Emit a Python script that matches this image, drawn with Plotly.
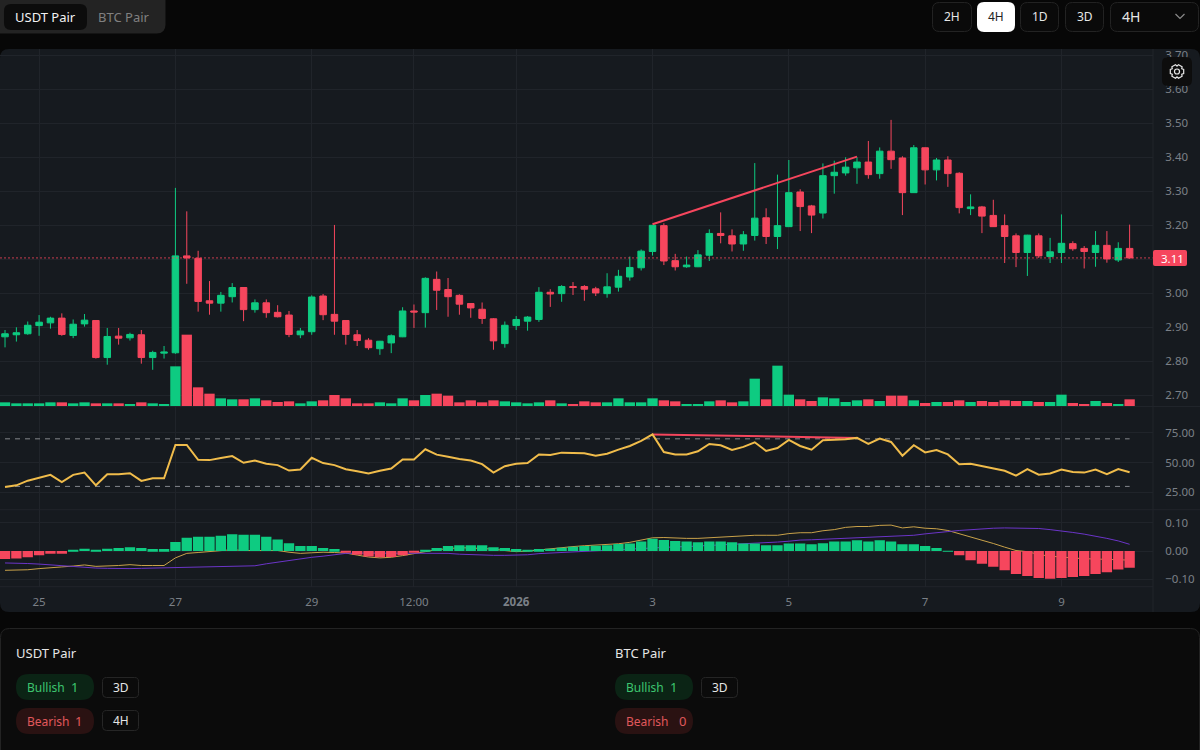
import math
import pandas as pd
import plotly.graph_objects as go

# velas de 4h, desde el 24 dic 12:00
tiempos = pd.date_range("2025-12-24 12:00", periods=100, freq="4h")

opens = [2.872,2.878,2.881,2.905,2.913,2.927,2.876,2.910,2.920,2.811,
         2.874,2.869,2.878,2.811,2.824,2.825,3.110,3.103,2.978,2.971,
         2.990,3.017,2.952,2.972,2.944,2.936,2.878,2.887,2.992,2.938,
         2.920,2.878,2.862,2.837,2.854,2.872,2.948,2.943,3.041,3.011,
         2.994,2.970,2.953,2.925,2.852,2.905,2.918,2.923,3.003,2.999,
         3.020,3.020,3.013,2.999,3.018,3.048,3.075,3.123,3.199,3.096,
         3.078,3.078,3.112,3.176,3.169,3.145,3.170,3.222,3.167,3.196,
         3.298,3.257,3.236,3.346,3.354,3.369,3.386,3.352,3.418,3.398,
         3.296,3.428,3.363,3.392,3.353,3.249,3.254,3.229,3.199,3.169,
         3.120,3.169,3.108,3.120,3.146,3.132,3.120,3.141,3.098,3.132]
highs = [2.892,2.900,2.917,2.936,2.931,2.941,2.923,2.939,2.921,2.898,
         2.898,2.884,2.892,2.831,2.845,3.310,3.241,3.125,3.036,3.004,
         3.030,3.018,2.982,2.982,2.965,2.948,2.898,2.994,2.998,3.201,
         2.921,2.892,2.868,2.860,2.879,2.959,2.967,3.047,3.064,3.045,
         2.997,2.970,2.973,2.927,2.917,2.933,2.933,3.018,3.012,3.024,
         3.033,3.024,3.019,3.059,3.069,3.108,3.129,3.201,3.206,3.116,
         3.108,3.127,3.188,3.238,3.188,3.183,3.383,3.250,3.349,3.392,
         3.306,3.260,3.382,3.390,3.400,3.400,3.448,3.429,3.510,3.403,
         3.436,3.429,3.398,3.403,3.356,3.291,3.257,3.275,3.232,3.176,
         3.172,3.176,3.163,3.232,3.153,3.139,3.183,3.183,3.150,3.202]
lows = [2.841,2.858,2.878,2.875,2.896,2.875,2.868,2.902,2.808,2.790,
        2.849,2.861,2.793,2.775,2.808,2.822,3.028,2.946,2.937,2.946,
        2.973,2.918,2.943,2.928,2.929,2.871,2.868,2.878,2.921,2.878,
        2.849,2.845,2.834,2.819,2.824,2.871,2.898,2.899,2.951,2.931,
        2.937,2.928,2.910,2.834,2.840,2.892,2.890,2.916,2.960,2.975,
        2.995,2.978,2.992,2.987,3.005,3.037,3.067,3.111,3.083,3.067,
        3.075,3.077,3.095,3.147,3.123,3.125,3.155,3.145,3.130,3.196,
        3.183,3.177,3.220,3.293,3.346,3.322,3.337,3.337,3.366,3.230,
        3.296,3.320,3.332,3.313,3.235,3.230,3.177,3.195,3.089,3.077,
        3.051,3.104,3.089,3.089,3.125,3.073,3.078,3.090,3.092,3.102]
closes = [2.881,2.884,2.906,2.915,2.927,2.879,2.909,2.921,2.811,2.873,
          2.868,2.879,2.811,2.826,2.827,3.110,3.104,2.976,2.971,2.994,
          3.017,2.952,2.972,2.943,2.931,2.879,2.889,2.989,2.937,2.918,
          2.879,2.861,2.840,2.859,2.875,2.948,2.945,3.044,3.009,2.990,
          2.968,2.957,2.926,2.860,2.906,2.923,2.930,3.003,2.998,3.020,
          3.017,3.012,3.001,3.019,3.050,3.076,3.124,3.200,3.095,3.078,
          3.083,3.113,3.176,3.170,3.145,3.172,3.221,3.167,3.199,3.296,
          3.255,3.230,3.346,3.356,3.371,3.386,3.349,3.418,3.393,3.296,
          3.428,3.363,3.392,3.352,3.252,3.254,3.227,3.196,3.167,3.120,
          3.171,3.110,3.122,3.147,3.131,3.123,3.141,3.101,3.132,3.104]
volumen = [11,8,8,8,11,11,8,11,8,8,
           8,6,11,8,6,119,214,56,37,23,
           20,20,23,17,12,14,8,14,17,33,
           23,8,8,11,8,23,17,33,37,31,
           11,17,11,17,14,11,8,11,17,8,
           5,14,11,11,23,11,11,23,17,14,
           5,5,14,17,11,14,82,20,121,34,
           20,15,26,23,12,17,20,15,31,31,
           17,9,12,12,17,12,15,12,17,15,
           15,12,12,34,9,6,15,9,6,20]
rsi = [29.5,30.9,34.8,37.1,39.7,33.7,39.7,41.6,30.9,40.2,
       40.2,41.1,34.6,36.8,36.8,64.9,64.9,52.4,52.1,53.8,
       55.5,49.9,51.8,49.0,47.9,43.3,44.2,54.1,49.6,47.9,
       44.5,42.8,40.8,43.1,45.0,52.7,52.7,61.2,56.7,55.0,
       53.0,51.8,48.7,41.6,47.0,49.0,49.6,56.9,56.4,58.4,
       58.4,57.8,55.8,57.5,60.9,64.0,68.3,73.7,58.9,56.9,
       56.9,59.5,65.7,64.6,60.6,63.2,67.1,59.8,62.3,69.1,
       64.0,60.9,68.8,69.1,69.7,70.8,65.7,70.3,67.4,55.8,
       64.6,58.6,60.6,56.9,48.7,49.0,47.0,45.0,43.1,39.1,
       44.5,39.9,40.8,44.2,42.2,41.6,44.2,40.2,44.5,41.9]
macd = [-.068,-.068,-.066,-.062,-.058,-.056,-.053,-.049,-.054,-.053,
        -.051,-.048,-.051,-.051,-.051,-.024,-.008,-.005,-.002,0,
        .005,.002,.002,.002,.002,-.004,-.008,-.006,-.004,-.005,
        -.007,-.014,-.021,-.024,-.022,-.016,-.008,-.002,.005,.009,
        .012,.011,.009,.007,.002,-.002,0,.004,.009,.014,
        .016,.019,.021,.024,.026,.031,.038,.047,.048,.046,
        .045,.045,.047,.051,.053,.053,.056,.056,.056,.062,
        .065,.065,.072,.076,.084,.087,.087,.091,.092,.082,
        .086,.081,.079,.073,.062,.051,.039,.027,.014,.002,
        -.002,-.012,-.018,-.021,-.025,-.027,-.028,-.029,-.031,-.032]
senal = [-.042,-.042,-.044,-.046,-.049,-.053,-.055,-.059,-.060,-.061,
         -.062,-.062,-.061,-.060,-.059,-.058,-.056,-.055,-.055,-.054,
         -.053,-.053,-.052,-.045,-.039,-.032,-.027,-.022,-.018,-.013,
         -.008,-.007,-.007,-.007,-.007,-.007,-.006,-.006,-.007,-.008,
         -.011,-.013,-.014,-.015,-.015,-.014,-.013,-.009,-.007,-.005,
         -.002,0,.002,.004,.006,.008,.011,.012,.014,.015,
         .016,.019,.020,.022,.024,.025,.026,.029,.032,.035,
         .039,.040,.042,.044,.045,.047,.048,.051,.053,.055,
         .056,.061,.064,.069,.073,.076,.079,.081,.082,.082,
         .082,.080,.076,.072,.066,.060,.053,.045,.036,.024]
histograma = [-.028,-.026,-.022,-.015,-.009,-.009,.002,.008,.004,.008,
              .011,.014,.011,.007,.007,.032,.047,.051,.051,.054,
              .060,.058,.058,.051,.041,.028,.018,.018,.011,.007,
              -.006,-.013,-.019,-.022,-.021,-.015,-.006,.004,.011,.018,
              .021,.021,.021,.014,.011,.007,.004,.007,.008,.012,
              .015,.018,.019,.021,.025,.027,.034,.044,.039,.036,
              .034,.031,.034,.034,.031,.027,.027,.021,.021,.027,
              .027,.024,.028,.034,.034,.038,.034,.038,.034,.024,
              .024,.018,.011,.001,-.015,-.032,-.045,-.055,-.068,-.081,
              -.088,-.095,-.098,-.095,-.092,-.088,-.081,-.075,-.065,-.059]
nivel_70 = [70] * 100
nivel_30 = [30] * 100

# divergencias dibujadas en precio y RSI
div_indices = [57, 75]
div_precio = [3.203, 3.402]
div_rsi = [73.7, 70.8]
ultimo_precio = 3.104
ultimo_precio_texto = "3.11"

ticks_x = ["2025-12-25", "2025-12-27", "2025-12-29", "2025-12-30 12:00", "2026-01-01",
           "2026-01-03", "2026-01-05", "2026-01-07", "2026-01-09"]
ticks_x_texto = ["25", "27", "29", "12:00", "<b>2026</b>", "3", "5", "7", "9"]
ticks_precio = [2.7, 2.8, 2.9, 3.0, 3.1, 3.2, 3.3, 3.4, 3.5, 3.6, 3.7]
# el 3.10 queda tapado por la etiqueta del ultimo precio
ticks_precio_texto = ["2.70", "2.80", "2.90", "3.00", "", "3.20", "3.30", "3.40", "3.50", "3.60", "3.70"]

VERDE = "#0ECB81"
ROJO = "#F6465D"
AMBAR = "#F0BC4B"
MORADO = "#6B35C8"
GRID = "#20242A"
GRIS = "#7B8087"
PANEL = "#161A1F"
FONDO = "#070707"
FUENTE = "Noto Sans"


def px(x, y):
    return x / 1200, 1 - y / 750


def rect(x0, y0, x1, y1, r, fill, borde=None, capa="above"):
    """Rectangulo redondeado en pixeles de la pagina"""
    pts = [(x0 + r, y0), (x1 - r, y0), (x1, y0), (x1, y0 + r), (x1, y1 - r), (x1, y1),
           (x1 - r, y1), (x0 + r, y1), (x0, y1), (x0, y1 - r), (x0, y0 + r), (x0, y0)]
    p = [px(*q) for q in pts]
    f = lambda q: f"{q[0]:.5f} {q[1]:.5f}"
    path = (f"M {f(p[0])} L {f(p[1])} Q {f(p[2])} {f(p[3])} L {f(p[4])} Q {f(p[5])} {f(p[6])} "
            f"L {f(p[7])} Q {f(p[8])} {f(p[9])} L {f(p[10])} Q {f(p[11])} {f(p[0])} Z")
    return dict(type="path", path=path, xref="paper", yref="paper", fillcolor=fill, layer=capa,
                line=dict(color=borde or fill, width=1 if borde else 0))


def texto(x, y, s, color="#E6E6E6", size=12, anchor="left"):
    xp, yp = px(x, y)
    return dict(x=xp, y=yp, xref="paper", yref="paper", text=s, showarrow=False, xanchor=anchor,
                yanchor="middle", borderpad=0, borderwidth=0,
                font=dict(color=color, size=size, family=FUENTE))


def linea_px(x0, y0, x1, y1, color=GRID, width=1):
    a, b = px(x0, y0)
    c, d = px(x1, y1)
    return dict(type="line", xref="paper", yref="paper", x0=a, y0=b, x1=c, y1=d, layer="above",
                line=dict(color=color, width=width))


def engrane(cx, cy, r):
    """Icono de ajustes: contorno con seis dientes"""
    puntos = []
    for k in range(6):
        base = k * math.pi / 3
        for da, rr in [(-0.52, 0.78), (-0.3, 1.0), (0.3, 1.0), (0.52, 0.78)]:
            puntos.append(px(cx + rr * r * math.cos(base + da), cy + rr * r * math.sin(base + da)))
    path = "M " + " L ".join(f"{a:.5f} {b:.5f}" for a, b in puntos) + " Z"
    x0, y0 = px(cx - r * 0.36, cy - r * 0.36)
    x1, y1 = px(cx + r * 0.36, cy + r * 0.36)
    return [
        dict(type="path", path=path, xref="paper", yref="paper", layer="above",
             line=dict(color="#E8E8E8", width=1.2)),
        dict(type="circle", xref="paper", yref="paper", x0=x0, y0=y0, x1=x1, y1=y1, layer="above",
             line=dict(color="#E8E8E8", width=1.2)),
    ]


fig = go.Figure()

fig.add_trace(go.Bar(x=tiempos, y=volumen, yaxis="y2", hoverinfo="skip",
                     marker=dict(color=[VERDE if c >= o else ROJO for o, c in zip(opens, closes)], line_width=0)))
fig.add_trace(go.Candlestick(x=tiempos, open=opens, high=highs, low=lows, close=closes, yaxis="y",
                             increasing=dict(line=dict(color=VERDE, width=1), fillcolor=VERDE),
                             decreasing=dict(line=dict(color=ROJO, width=1), fillcolor=ROJO),
                             whiskerwidth=0, hoverinfo="skip"))
fig.add_trace(go.Scatter(x=[tiempos[i] for i in div_indices], y=div_precio, yaxis="y", mode="lines",
                         line=dict(color=ROJO, width=2), hoverinfo="skip"))

fig.add_trace(go.Scatter(x=tiempos, y=nivel_70, yaxis="y3", mode="lines", hoverinfo="skip",
                         line=dict(color="#85888D", width=1, dash="5px,5px")))
fig.add_trace(go.Scatter(x=tiempos, y=nivel_30, yaxis="y3", mode="lines", hoverinfo="skip",
                         line=dict(color="#85888D", width=1, dash="5px,5px")))
fig.add_trace(go.Scatter(x=[tiempos[i] for i in div_indices], y=div_rsi, yaxis="y3", mode="lines",
                         line=dict(color=ROJO, width=2), hoverinfo="skip"))
fig.add_trace(go.Scatter(x=tiempos, y=rsi, yaxis="y3", mode="lines", hoverinfo="skip",
                         line=dict(color=AMBAR, width=2)))

fig.add_trace(go.Scatter(x=tiempos, y=macd, yaxis="y4", mode="lines", hoverinfo="skip",
                         line=dict(color="#C9A24A", width=1)))
fig.add_trace(go.Scatter(x=tiempos, y=senal, yaxis="y4", mode="lines", hoverinfo="skip",
                         line=dict(color=MORADO, width=1)))
fig.add_trace(go.Bar(x=tiempos, y=histograma, yaxis="y5", hoverinfo="skip",
                     marker=dict(color=[VERDE if h >= 0 else ROJO for h in histograma], line_width=0)))

eje_y = dict(side="right", anchor="x", gridcolor=GRID, gridwidth=1, zeroline=False, showline=False,
             tickformat=".2f", ticks="outside", ticklen=9, tickcolor="rgba(0,0,0,0)",
             tickfont=dict(color=GRIS, size=11.5, family=FUENTE))

fig.update_layout(
    width=1200, height=750,
    margin=dict(l=0, r=0, t=0, b=0, autoexpand=False),
    paper_bgcolor=FONDO, plot_bgcolor="rgba(0,0,0,0)",
    showlegend=False, hovermode=False, dragmode=False,
    barmode="overlay", bargap=0.09, boxgap=0.18,
    xaxis=dict(domain=[0, 1153 / 1200], anchor="y4", type="date",
               range=["2025-12-24 10:14", "2026-01-10 08:14"],
               tickvals=ticks_x, ticktext=ticks_x_texto, tickmode="array",
               showgrid=True, gridcolor=GRID, zeroline=False, showline=False,
               ticks="outside", ticklen=4, tickcolor="rgba(0,0,0,0)",
               tickangle=0, rangeslider=dict(visible=False),
               tickfont=dict(color=GRIS, size=11.5, family=FUENTE)),
    yaxis=dict(eje_y, domain=[1 - 406 / 750, 1 - 49 / 750], range=[2.6685, 3.7185],
               tickmode="array", tickvals=ticks_precio, ticktext=ticks_precio_texto),
    yaxis2=dict(overlaying="y", side="right", anchor="x", range=[0, 1071], visible=False),
    yaxis3=dict(eje_y, domain=[1 - 509.7 / 750, 1 - 406.5 / 750], range=[10.4, 97.2],
                tickvals=[25, 50, 75]),
    yaxis4=dict(eje_y, domain=[1 - 586.7 / 750, 1 - 509.7 / 750], range=[-0.126, 0.1465],
                tickvals=[-0.10, 0.0, 0.10]),
    yaxis5=dict(overlaying="y4", side="right", anchor="x", range=[-0.126, 0.1465], visible=False),
)

# linea punteada del ultimo precio
fig.add_shape(type="line", xref="x domain", yref="y", x0=0, x1=1, y0=ultimo_precio, y1=ultimo_precio,
              line=dict(color=ROJO, width=1, dash="2px,2px"), layer="above", opacity=0.8)

formas = [
    rect(0, 49, 1200, 612, 9, PANEL, capa="below"),
    rect(-8, -8, 165.5, 33.5, 9, "#232323"),
    rect(4, 4, 87, 30, 7, "#0C0C0C"),
    rect(932.5, 2.5, 971.5, 31.5, 7, "#0A0A0A", "#232323"),
    rect(977, 2, 1015, 32, 7, "#FFFFFF"),
    rect(1020.5, 2.5, 1058.5, 31.5, 7, "#0A0A0A", "#232323"),
    rect(1065.5, 2.5, 1103.5, 31.5, 7, "#0A0A0A", "#232323"),
    rect(1110.5, 2.5, 1198.5, 31.5, 7, "#0A0A0A", "#232323"),
    rect(1162, 57, 1192, 86, 6, "#0D0D0D"),
    rect(0.5, 628.5, 1199.5, 760, 9, "#0B0B0B", "#232323", capa="below"),
    # pastillas USDT
    rect(16, 674, 94, 700, 13, "#0B2415"),
    rect(16, 708, 94, 734, 13, "#2A1212"),
    rect(102.5, 677.5, 138.5, 697.5, 4, "#0B0B0B", "#262626"),
    rect(102.5, 710.5, 138.5, 730.5, 4, "#0B0B0B", "#262626"),
    # pastillas BTC
    rect(615, 674, 693, 700, 13, "#0B2415"),
    rect(615, 708, 693, 734, 13, "#2A1212"),
    rect(701.5, 677.5, 737.5, 697.5, 4, "#0B0B0B", "#262626"),
    # separadores del grafico
    linea_px(0, 406.5, 1200, 406.5),
    linea_px(0, 509.7, 1200, 509.7),
    linea_px(0, 586.7, 1153, 586.7),
    linea_px(1153, 49, 1153, 612),
    # etiqueta del ultimo precio
    rect(1153, 250, 1187, 266, 2, ROJO),
]
chevron = [px(1175.5, 14), px(1180, 18.5), px(1184.5, 14)]
formas.append(dict(type="path", xref="paper", yref="paper", layer="above",
                   path="M " + " L ".join(f"{a:.5f} {b:.5f}" for a, b in chevron),
                   line=dict(color="#8A8A8A", width=1.2)))
formas += engrane(1177, 71.5, 7)
for forma in formas:
    fig.add_shape(**forma)

anotaciones = [
    texto(45.5, 17, "USDT Pair", "#F2F2F2", 13, "center"),
    texto(124, 17, "BTC Pair", "#808080", 13, "center"),
    texto(952, 17, "2H", "#E6E6E6", 12, "center"),
    texto(996, 17, "4H", "#222222", 12, "center"),
    texto(1039.5, 17, "1D", "#E6E6E6", 12, "center"),
    texto(1084.5, 17, "3D", "#E6E6E6", 12, "center"),
    texto(1122, 17, "4H", "#E6E6E6", 14),
    texto(1172, 258, ultimo_precio_texto, "#FFFFFF", 11.5, "center"),
    texto(16, 653, "USDT Pair", "#E6E6E6", 13),
    texto(27, 687, "Bullish", "#3DC46F", 12),
    texto(74, 687, "1", "#3DC46F", 13, "center"),
    texto(27, 721, "Bearish", "#E0585C", 12),
    texto(78, 721, "1", "#E0585C", 13, "center"),
    texto(120.5, 687.5, "3D", "#E6E6E6", 12, "center"),
    texto(120.5, 720.5, "4H", "#E6E6E6", 12, "center"),
    texto(615, 653, "BTC Pair", "#E6E6E6", 13),
    texto(626, 687, "Bullish", "#3DC46F", 12),
    texto(673, 687, "1", "#3DC46F", 13, "center"),
    texto(626, 721, "Bearish", "#E0585C", 12),
    texto(682, 721, "0", "#E0585C", 13, "center"),
    texto(719.5, 687.5, "3D", "#E6E6E6", 12, "center"),
]
fig.update_layout(annotations=anotaciones)

fig.write_html("out.html", config={"displayModeBar": False},
               post_script="document.body.style.margin='0';document.body.style.background='#070707';")
